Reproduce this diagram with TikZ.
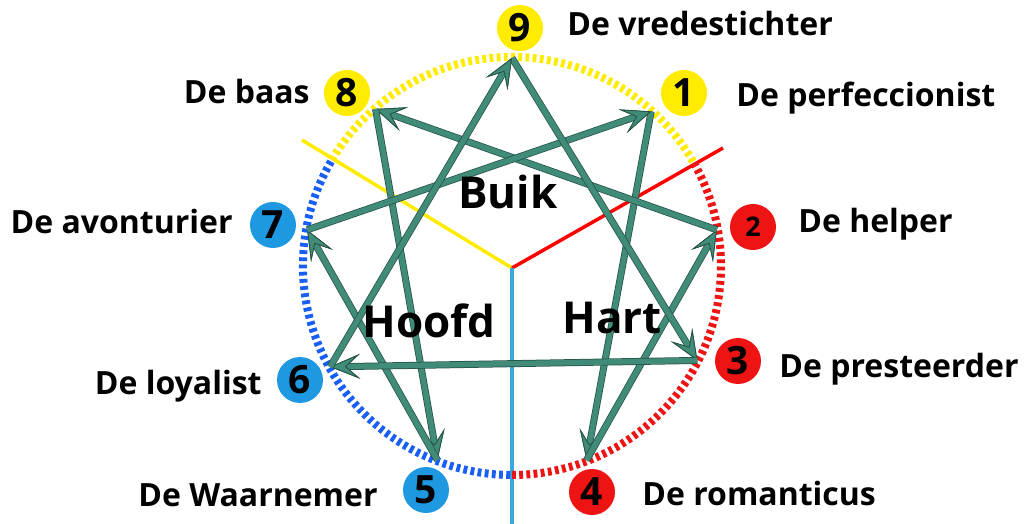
\documentclass[tikz,border=0pt]{standalone}
\usepackage{fontspec}
\setmainfont{Open Sans}
\usepackage{tikz}
\usetikzlibrary{positioning,arrows.meta}
\definecolor{ennyellow}{RGB}{255,236,0}
\definecolor{ennred}{RGB}{238,20,20}
\definecolor{ennblue}{RGB}{30,152,224}
\definecolor{dotblue}{RGB}{25,95,245}
\definecolor{midblue}{RGB}{58,168,220}
\definecolor{arrowfill}{RGB}{64,140,120}
\definecolor{arrowedge}{RGB}{38,82,70}
\tikzstyle{num} = [circle, minimum size=46pt, inner sep=0pt, font=\fontsize{39}{40}\selectfont\bfseries]
\tikzstyle{lab} = [inner sep=0pt, text height=23pt, text depth=0pt, font=\fontsize{32}{38}\selectfont\bfseries]
\tikzstyle{centre} = [inner sep=0pt, font=\fontsize{44}{48}\selectfont\bfseries]
\tikzstyle{dots} = [line width=8pt, dash pattern=on 3.8pt off 3.4pt]
\tikzstyle{arrow} = [line width=5.5pt, draw=arrowfill, -{Stealth[length=30pt,width=25pt,inset=14pt,line width=0.8pt,color=arrowedge,fill=arrowfill]}, preaction={draw=arrowedge, line width=7pt, -{Stealth[length=30pt,width=25pt,inset=14pt,line width=0.8pt,color=arrowedge,fill=arrowfill]}}]

\begin{document}
\begin{tikzpicture}[x=1pt, y=1pt]
\useasboundingbox (-512,-258) rectangle (515,266);

\coordinate (mid) at (0,-2);
\coordinate (yend) at (-210,126);
\coordinate (rend) at (211,118);
\coordinate (bend) at (0,-258);
\draw [ennyellow, line width=3.5pt] (mid) -- (yend);
\draw [red, line width=3.5pt] (mid) -- (rend);
\draw [midblue, line width=3.5pt] (mid) -- (bend);

\draw [dots, ennyellow] (30:209) arc [start angle=30, end angle=150, radius=209pt];
\draw [dots, dotblue] (150:209) arc [start angle=150, end angle=270, radius=209pt];
\draw [dots, ennred] (-90:209) arc [start angle=-90, end angle=30, radius=209pt];

\coordinate (v9) at (90:208);
\coordinate (v1) at (48:208);
\coordinate (v2) at (10:208);
\coordinate (v3) at (-27:208);
\coordinate (v4) at (-69:208);
\coordinate (v5) at (-111:208);
\coordinate (v6) at (-151:208);
\coordinate (v7) at (170:208);
\coordinate (v8) at (131:208);

\draw [arrow] (v1) -- (v4);
\draw [arrow] (v4) -- (v2);
\draw [arrow] (v2) -- (v8);
\draw [arrow] (v8) -- (v5);
\draw [arrow] (v5) -- (v7);
\draw [arrow] (v7) -- (v1);
\draw [arrow] (v9) -- (v3);
\draw [arrow] (v3) -- (v6);
\draw [arrow] (v6) -- (v9);

\node (n9) [num, fill=ennyellow] at (8,238) {9};
\node (n8) [num, fill=ennyellow] at (-165,173) {8};
\node (n1) [num, fill=ennyellow] at (172,173) {1};
\node (n7) [num, fill=ennblue] at (-239,41) {7};
\node (n2) [num, fill=ennred, font=\fontsize{27}{30}\selectfont\bfseries] at (241,39) {2};
\node (n6) [num, fill=ennblue] at (-212,-114) {6};
\node (n3) [num, fill=ennred] at (226,-95) {3};
\node (n5) [num, fill=ennblue] at (-86,-224) {5};
\node (n4) [num, fill=ennred] at (80,-226) {4};

\node (t9) [lab, right=24pt of n9, yshift=4pt] {De vredestichter};
\node (t1) [lab, right=29pt of n1, yshift=-2pt] {De perfeccionist};
\node (t2) [lab, right=22pt of n2, yshift=6pt] {De helper};
\node (t3) [lab, right=18pt of n3, yshift=-5pt] {De presteerder};
\node (t4) [lab, right=27pt of n4, yshift=-2pt] {De romanticus};
\node (t5) [lab, left=25pt of n5, yshift=-5pt] {De Waarnemer};
\node (t6) [lab, left=15pt of n6, yshift=-3pt] {De loyalist};
\node (t7) [lab, left=17pt of n7, yshift=3pt] {De avonturier};
\node (t8) [lab, left=14pt of n8, yshift=1pt] {De baas};

\node (buik) [centre] at (-4,74) {Buik};
\node (hoofd) [centre] at (-83,-55) {Hoofd};
\node (hart) [centre] at (100,-52) {Hart};
\end{tikzpicture}
\end{document}
